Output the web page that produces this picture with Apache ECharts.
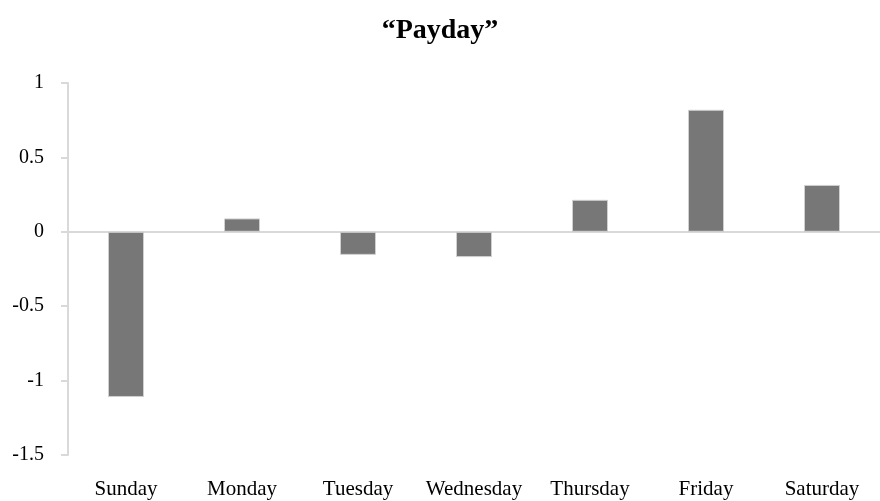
<!DOCTYPE html>
<html>
<head>
<meta charset="utf-8">
<script src="https://cdn.jsdelivr.net/npm/echarts@6/dist/echarts.min.js"></script>
<style>
  html, body { margin: 0; padding: 0; background: #fff; }
  #chart { width: 880px; height: 501px; }
</style>
</head>
<body>
<div id="chart"></div>
<script>
const days = ['Sunday', 'Monday', 'Tuesday', 'Wednesday', 'Thursday', 'Friday', 'Saturday']
const paydayValues = [-1.11, 0.09, -0.155, -0.17, 0.215, 0.82, 0.315]
const yTicks = { min: -1.5, max: 1, interval: 0.5 }

const axisGray = '#d9d9d9'
const labelFont = 'Liberation Serif, DejaVu Serif, serif'

const chart = echarts.init(document.getElementById('chart'))
chart.setOption({
  animation: false,
  title: {
    text: '\u201cPayday\u201d',
    left: 'center',
    top: 12,
    textStyle: {
      fontFamily: labelFont,
      fontWeight: 'bold',
      fontSize: 28,
      color: '#000'
    }
  },
  grid: {
    left: 68,
    right: -6,
    top: 83,
    bottom: 46
  },
  xAxis: [{
    // labels along the bottom
    type: 'category',
    data: days,
    position: 'bottom',
    axisLine: { show: false, onZero: false },
    axisTick: { show: false },
    axisLabel: {
      interval: 0,
      hideOverlap: false,
      margin: 24,
      fontFamily: labelFont,
      fontSize: 21,
      color: '#000'
    }
  }, {
    // the line through zero
    type: 'category',
    data: days,
    position: 'bottom',
    axisLine: { show: true, onZero: true, lineStyle: { color: axisGray, width: 2 } },
    axisTick: { show: false },
    axisLabel: { show: false }
  }],
  yAxis: {
    type: 'value',
    min: yTicks.min,
    max: yTicks.max,
    interval: yTicks.interval,
    axisLine: { show: true, lineStyle: { color: axisGray, width: 2 } },
    axisTick: { show: true, length: 7, lineStyle: { color: axisGray, width: 2 } },
    splitLine: { show: false },
    axisLabel: {
      margin: 24,
      fontFamily: labelFont,
      fontSize: 20,
      color: '#000'
    }
  },
  series: [{
    type: 'bar',
    xAxisIndex: 0,
    data: paydayValues,
    barWidth: 36,
    itemStyle: {
      color: '#777777',
      borderColor: '#d0d0d0',
      borderWidth: 1
    }
  }]
})
</script>
</body>
</html>
